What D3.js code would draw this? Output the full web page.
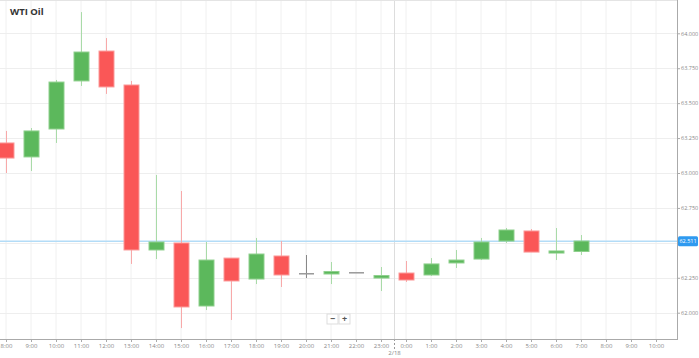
<!DOCTYPE html>
<html><head><meta charset="utf-8">
<script src="https://cdn.jsdelivr.net/npm/d3@7"></script>
<style>body{margin:0;background:#fff;overflow:hidden}svg{display:block}</style>
</head><body>
<script>
const hours = ["8:00","9:00","10:00","11:00","12:00","13:00","14:00","15:00","16:00","17:00","18:00","19:00","20:00","21:00","22:00","23:00","0:00","1:00","2:00","3:00","4:00","5:00","6:00","7:00"];
const openV  = [63.215,63.115,63.315,63.659,63.873,63.630,62.449,62.499,62.048,62.391,62.241,62.406,62.284,62.277,62.291,62.248,62.284,62.270,62.356,62.384,62.513,62.585,62.427,62.438];
const highV  = [63.301,63.322,63.666,64.152,63.966,63.659,62.986,62.871,62.506,62.391,62.535,62.513,62.413,62.363,62.291,62.327,62.370,62.391,62.449,62.535,62.606,62.599,62.606,62.556];
const lowV   = [63.000,63.014,63.215,63.623,63.566,62.349,62.384,61.890,62.019,61.948,62.205,62.184,62.248,62.205,62.291,62.155,62.220,62.263,62.320,62.377,62.499,62.434,62.377,62.413];
const closeV = [63.107,63.301,63.651,63.866,63.616,62.449,62.506,62.041,62.377,62.227,62.420,62.270,62.284,62.295,62.291,62.266,62.234,62.349,62.377,62.506,62.592,62.434,62.442,62.513];
const yTicks = [62.000,62.250,62.500,62.750,63.000,63.250,63.500,63.750,64.000];
const lastPrice = 62.511;
const title = "WTI Oil";
const dayLabel = "2/18";

const W=699,H=358;
const plotR=677, plotB=339;
const start = new Date(2021,1,17,8,0);
const end = new Date(2021,1,18,10,0);
const dates = hours.map((h,i)=>new Date(start.getTime()+i*3600000));
const x = d3.scaleTime().domain([start,end]).range([6,656]);
const y = d3.scaleLinear().domain([62,64]).range([312.7,33.3]);

const svg = d3.select("body").append("svg").attr("width",W).attr("height",H)
  .style("font-family","'Open Sans', 'DejaVu Sans', sans-serif");

// clip
svg.append("clipPath").attr("id","clip").append("rect").attr("x",0).attr("y",0).attr("width",plotR).attr("height",plotB);

const grid = svg.append("g");
const hourTicks = d3.timeHour.range(start, new Date(end.getTime()+1));
grid.selectAll("line.v").data(hourTicks).join("line")
  .attr("x1",d=>x(d)).attr("x2",d=>x(d)).attr("y1",0).attr("y2",plotB)
  .attr("stroke","#f0f0f0").attr("stroke-width",1);
grid.selectAll("line.h").data(yTicks).join("line")
  .attr("x1",0).attr("x2",plotR).attr("y1",d=>Math.round(y(d))+0.5).attr("y2",d=>Math.round(y(d))+0.5)
  .attr("stroke","#eeeeee").attr("stroke-width",1);

// day separator
const midnight = new Date(2021,1,18,0,0);
const sepX = Math.round(x(midnight) - 12.5)+0.5;
svg.append("line").attr("x1",sepX).attr("x2",sepX).attr("y1",0).attr("y2",plotB)
  .attr("stroke","#dddddd").attr("stroke-width",1);
svg.append("line").attr("x1",sepX).attr("x2",sepX).attr("y1",plotB).attr("y2",349)
  .attr("stroke","#999").attr("stroke-width",1).attr("stroke-dasharray","2,2");
svg.append("text").attr("x",sepX).attr("y",355).attr("text-anchor","middle")
  .attr("font-size",6).attr("fill","#888").text(dayLabel);

// current price line
svg.append("line").attr("x1",0).attr("x2",plotR).attr("y1",y(lastPrice)).attr("y2",y(lastPrice))
  .attr("stroke","#b3dcf7").attr("stroke-width",1.5);

// candles
const data = dates.map((d,i)=>({d,o:openV[i],h:highV[i],l:lowV[i],c:closeV[i]}));
const col = d=> d.c>d.o ? "#5cb85c" : d.c<d.o ? "#fa5757" : "#999";
const wcol = d=> d.c>d.o ? "#a9dba8" : d.c<d.o ? "#f8a9a9" : "#888";
const bcol = d=> d.c>d.o ? "#8fd08d" : d.c<d.o ? "#fb9a9a" : "#999";
const cg = svg.append("g").attr("clip-path","url(#clip)");
const bw = 15;
cg.selectAll("line.w").data(data).join("line")
  .attr("x1",d=>Math.round(x(d.d))+0.5).attr("x2",d=>Math.round(x(d.d))+0.5)
  .attr("y1",d=>y(d.h)).attr("y2",d=>y(d.l))
  .attr("stroke",wcol).attr("stroke-width",1);
cg.selectAll("rect.b").data(data).join("rect")
  .attr("x",d=>Math.round(x(d.d))-bw/2+0.5).attr("width",bw)
  .attr("y",d=>y(Math.max(d.o,d.c)))
  .attr("height",d=>Math.max(1.5,Math.abs(y(d.o)-y(d.c))))
  .attr("fill",col).attr("stroke",bcol).attr("stroke-width",d=>d.c===d.o?0:1);

// axes lines
svg.append("line").attr("x1",0).attr("x2",plotR).attr("y1",plotB+0.5).attr("y2",plotB+0.5).attr("stroke","#aaa");
svg.append("line").attr("x1",plotR+0.5).attr("x2",plotR+0.5).attr("y1",0).attr("y2",plotB+1).attr("stroke","#aaa");
svg.append("line").attr("x1",0).attr("x2",plotR).attr("y1",0.5).attr("y2",0.5).attr("stroke","#e4e4e4");

// x axis
const xAxis = d3.axisBottom(x).tickValues(hourTicks).tickFormat(d3.timeFormat("%-H:%M")).tickSize(3).tickSizeOuter(0);
const gx = svg.append("g").attr("transform",`translate(0,${plotB})`).call(xAxis);
gx.select(".domain").remove();
gx.selectAll(".tick line").attr("stroke","#aaa");
gx.selectAll(".tick text").attr("font-size",6).attr("fill","#888").attr("dy","0.5em")
  .attr("font-family","'Open Sans', 'DejaVu Sans', sans-serif");

// y axis
const yAxis = d3.axisRight(y).tickValues(yTicks.filter(v=>v!==62.5)).tickFormat(d3.format(".3f")).tickSize(3);
const gy = svg.append("g").attr("transform",`translate(${plotR},0)`).call(yAxis);
gy.select(".domain").remove();
gy.selectAll(".tick line").attr("stroke","#aaa");
gy.selectAll(".tick text").attr("font-size",5.5).attr("fill","#888").attr("x",4)
  .attr("font-family","'Open Sans', 'DejaVu Sans', sans-serif");

// price label
const py = y(lastPrice);
svg.append("rect").attr("x",plotR+1).attr("y",py-5).attr("width",20).attr("height",10).attr("rx",1.5)
  .attr("fill","#2f9af0");
svg.append("text").attr("x",plotR+11).attr("y",py+2).attr("text-anchor","middle")
  .attr("font-size",5.5).attr("fill","#fff").text(d3.format(".3f")(lastPrice));

// title
svg.append("text").attr("x",10).attr("y",15).attr("font-size",9.5).attr("font-weight","bold")
  .attr("fill","#333").attr("font-family","'Open Sans', 'DejaVu Sans', sans-serif").text(title);

// zoom buttons
const zb = svg.append("g").attr("transform","translate(327,314)");
[["−",0],["+",12]].forEach(([t,dx])=>{
  zb.append("rect").attr("x",dx).attr("y",0).attr("width",11).attr("height",10)
    .attr("fill","#fff").attr("stroke","#ddd");
  zb.append("text").attr("x",dx+5.5).attr("y",8).attr("text-anchor","middle")
    .attr("font-size",9).attr("font-weight","bold").attr("fill","#555").text(t);
});
</script>
</body></html>
